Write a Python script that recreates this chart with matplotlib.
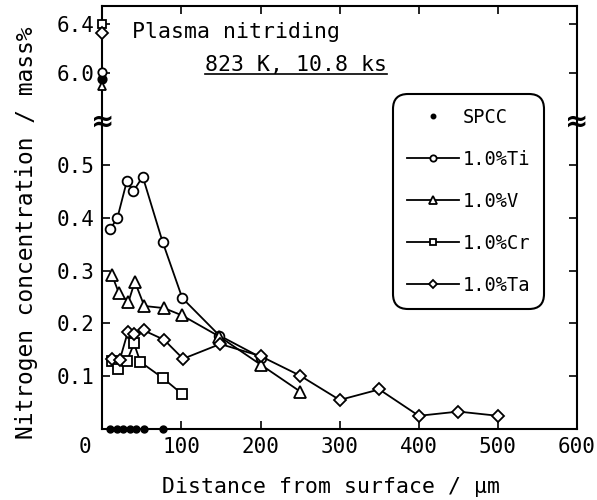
import numpy as np
import matplotlib
matplotlib.use("Agg")
import matplotlib.pyplot as plt
from matplotlib import transforms
from matplotlib.lines import Line2D

plt.rcParams['font.family'] = ['DejaVu Sans Mono']

# values (depth in um, N in mass%)
depth_spcc = [10, 18, 26, 35, 43, 52, 77]
n_spcc = [0.0, 0.0, 0.0, 0.0, 0.0, 0.0, 0.0]

depth_ti = [10, 19, 31, 39, 51, 76, 101, 148, 201]
n_ti = [0.379, 0.400, 0.470, 0.450, 0.478, 0.355, 0.248, 0.177, 0.135]

depth_v = [12, 21, 33, 41, 53, 78, 101, 148, 200, 250]
n_v = [0.292, 0.257, 0.241, 0.279, 0.233, 0.229, 0.215, 0.175, 0.122, 0.071]

depth_cr = [12, 20, 31, 40, 48, 76, 101]
n_cr = [0.128, 0.113, 0.129, 0.162, 0.127, 0.097, 0.066]

depth_ta = [12, 22, 32, 40, 52, 78, 102, 149, 200, 250, 300, 350, 400, 450, 500]
n_ta = [0.132, 0.131, 0.183, 0.179, 0.187, 0.169, 0.133, 0.161, 0.138,
        0.101, 0.055, 0.075, 0.025, 0.033, 0.025]

# surface values (depth 0), shown above the axis break
surface_names = ['SPCC', '1.0%Ti', '1.0%V', '1.0%Cr', '1.0%Ta']
surface_n = [5.95, 6.01, 5.89, 6.40, 6.33]

yticks = [0.1, 0.2, 0.3, 0.4, 0.5, 6.0, 6.4]
xticks = [0, 100, 200, 300, 400, 500, 600]

# broken y axis as one piecewise linear scale
y_knots = [-10.0, 0.5814, 5.60, 100.0]
t_knots = [-5280.0, 307.0, 307.05, 307.05 + 94.4 * 122.5]


def forward(y):
    return np.interp(y, y_knots, t_knots)


def inverse(t):
    return np.interp(t, t_knots, y_knots)


fig = plt.figure(figsize=(5.97, 5.0), dpi=100)
ax = fig.add_axes([0.1715, 0.142, 0.795, 0.846])
ax.set_yscale('function', functions=(forward, inverse))

lw = 1.3
mew = 1.3
ax.plot(depth_spcc, n_spcc, 'o', color='black', ms=5, clip_on=False,
        zorder=5, label='SPCC')
ax.plot(depth_ti, n_ti, '-o', color='black', lw=lw, ms=7, mfc='white',
        mew=mew, label='1.0%Ti')
ax.plot(depth_v, n_v, '-^', color='black', lw=lw, ms=8, mfc='white',
        mew=mew, label='1.0%V')
ax.plot(depth_cr, n_cr, '-s', color='black', lw=lw, ms=6.5, mfc='white',
        mew=mew, label='1.0%Cr')
ax.plot(depth_ta, n_ta, '-D', color='black', lw=lw, ms=6, mfc='white',
        mew=mew, label='1.0%Ta')

surface_marker = {'SPCC': 'o', '1.0%Ti': 'o', '1.0%V': '^', '1.0%Cr': 's', '1.0%Ta': 'D'}
for name, val in zip(surface_names, surface_n):
    face = 'black' if name == 'SPCC' else 'white'
    ax.plot([0], [val], surface_marker[name], color='black', mfc=face,
            ms=6, mew=mew, clip_on=False, zorder=5)

ax.set_xlim(0, 600)
ax.set_ylim(0, 6.547)
ax.set_xticks(xticks)
ax.set_xticklabels([str(v) for v in xticks])
ax.set_yticks(yticks)
ax.set_yticklabels(['%.1f' % v for v in yticks])
ax.minorticks_off()
ax.tick_params(direction='in', length=6, width=1.2, top=True, right=True,
               labelsize=15, pad=6)
for s in ax.spines.values():
    s.set_linewidth(1.5)

# the "0" label sits left of the corner
lab0 = ax.get_xticklabels()[0]
lab0.set_transform(lab0.get_transform() +
                   transforms.ScaledTranslation(-0.17, 0, fig.dpi_scale_trans))

ax.set_xlabel('Distance from surface / μm', fontsize=15.5, va='center')
ax.xaxis.set_label_coords(0.482, -0.137)
ax.set_ylabel('Nitrogen concentration / mass%', fontsize=16.5, va='center')
ax.yaxis.set_label_coords(-0.159, 0.463)

# break marks on both spines
for xs in (0, 1):
    ax.text(xs, 0.727, '≈', transform=ax.transAxes, ha='center', va='center',
            fontsize=20, fontweight='bold', family='DejaVu Sans', zorder=6)

ax.text(0.062, 0.9385, 'Plasma nitriding', transform=ax.transAxes,
        fontsize=15.5, va='center')
cond = ax.text(0.216, 0.861, '823 K, 10.8 ks', transform=ax.transAxes,
               fontsize=15.5, va='center')

leg = ax.legend(loc='upper left', bbox_to_anchor=(0.612, 0.792),
                borderaxespad=0, fontsize=13.5, numpoints=1, markerscale=0.65,
                handlelength=2.77, handletextpad=0.2, labelspacing=1.22,
                borderpad=0.75, fancybox=True, framealpha=1)
frame = leg.get_frame()
frame.set_edgecolor('black')
frame.set_linewidth(1.5)
frame.set_boxstyle('round', pad=0, rounding_size=0.8)

fig.canvas.draw()
bb = cond.get_window_extent()
fig.add_artist(Line2D([bb.x0, bb.x1], [bb.y0 + 1, bb.y0 + 1], color='black',
                      lw=1.2, transform=transforms.IdentityTransform()))

fig.savefig('out.png', dpi=100)
